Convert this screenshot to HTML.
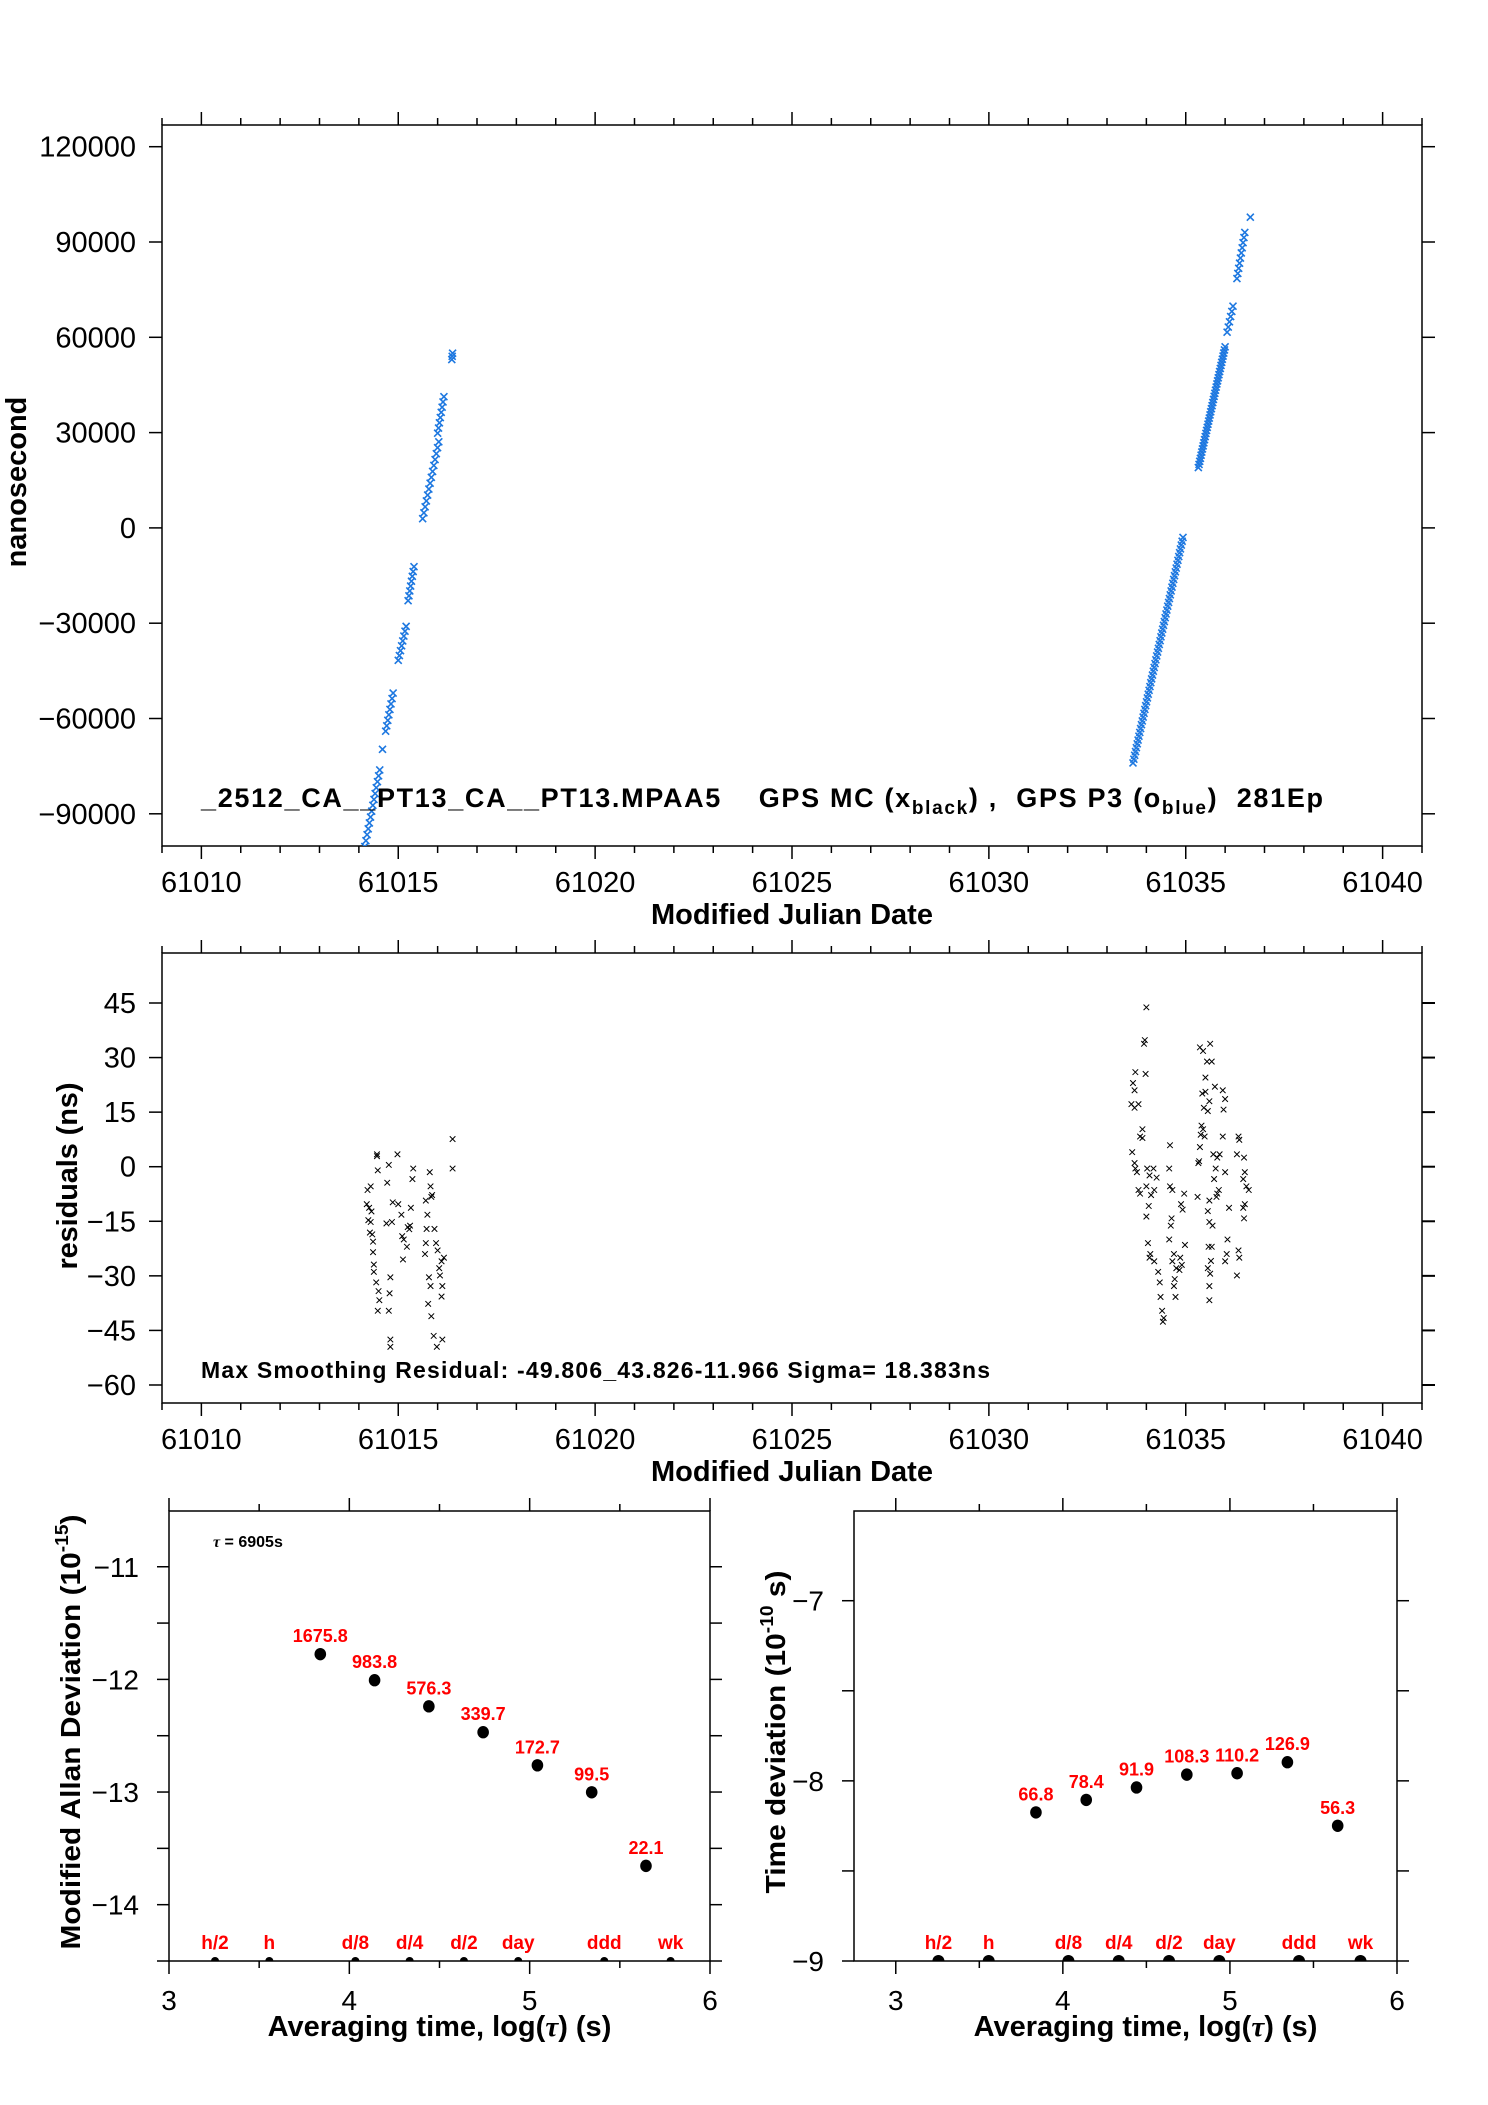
<!DOCTYPE html>
<html><head><meta charset="utf-8"><style>
html,body{margin:0;padding:0;background:#fff;}
svg{display:block;font-family:"Liberation Sans",Arial,sans-serif;}
</style></head><body>
<svg id="chart" width="1488" height="2105" viewBox="0 0 1488 2105" xmlns="http://www.w3.org/2000/svg">
<rect x="0" y="0" width="1488" height="2105" fill="#fff"/>
<g id="g1"></g>
<g id="g2"></g>
<g id="g3"></g>
<g id="g4"></g>
</svg>
<script>
// ---- phase plot data (segments of blue markers) ----
const phaseSegX0=[61014.15,61014.60,61014.68,61015.00,61015.25,61015.62,61016.00,61016.36,61033.66,61035.32,61036.05,61036.30,61036.64];
const phaseSegX1=[61014.53,61014.60,61014.87,61015.20,61015.40,61016.03,61016.16,61016.38,61034.93,61036.00,61036.20,61036.50,61036.64];
const phaseSegY0=[-100300,-69700,-64000,-41700,-22900,2900,29800,53000,-74000,19000,61600,78500,97800];
const phaseSegY1=[-76200,-69700,-52000,-31000,-12200,27100,41300,55000,-3000,57000,69800,93000,97800];
const phaseSegN=[14,1,8,8,8,14,8,3,60,40,6,10,1];
const mjdTicks=[61010,61015,61020,61025,61030,61035,61040];
const phaseTicks=[120000,90000,60000,30000,0,-30000,-60000,-90000];
const phaseLabels=["120000","90000","60000","30000","0","\u221230000","\u221260000","\u221290000"];
// ---- residuals data ----
const resX=[61014.22,61014.30,61014.20,61014.26,61014.32,61014.24,61014.30,61014.28,61014.34,61014.36,61014.36,61014.38,61014.38,
61014.46,61014.46,61014.48,61014.44,61014.50,61014.52,61014.48,
61014.76,61014.72,61014.70,61014.80,61014.78,61014.76,61014.80,61014.80,61014.86,61014.84,
61014.98,61015.00,61015.08,61015.10,61015.14,61015.12,61015.22,61015.24,
61015.38,61015.36,61015.32,61015.30,61015.28,
61015.80,61015.82,61015.70,61015.74,61015.72,61015.70,61015.68,61015.78,61015.82,61015.76,61015.84,61015.86,61015.84,
61015.92,61015.96,61016.00,61016.10,61016.04,61016.06,61016.12,61016.10,61015.90,61015.98,61016.12,61016.16,
61016.38,61016.38,
61033.72,61033.66,61033.70,61033.62,61033.70,61033.90,61033.90,61033.64,61033.70,61033.72,61033.76,61033.80,61033.84,
61034.00,61033.96,61033.94,61033.98,61033.80,61033.84,61034.02,61034.08,61034.00,61034.12,61034.06,61034.00,61034.04,61034.10,61034.08,
61034.20,61034.30,61034.34,61034.36,61034.40,61034.44,61034.42,61034.18,61034.26,61034.20,
61034.60,61034.58,61034.60,61034.66,61034.64,61034.62,61034.58,61034.70,61034.66,61034.76,61034.72,61034.70,61034.74,
61034.96,61034.88,61034.92,61034.98,61034.86,61034.90,61034.84,
61035.36,61035.44,61035.54,61035.50,61035.50,61035.42,61035.46,61035.40,61035.44,61035.38,61035.36,61035.34,61035.32,61035.30,61035.60,61035.56,61035.60,61035.58,61035.56,61035.60,
61035.62,61035.66,61035.74,61035.60,61035.56,61035.48,61035.70,61035.80,61035.76,61035.72,61035.84,61035.80,61035.78,61035.68,61035.66,61035.64,61035.62,61035.60,
61035.94,61036.00,61035.96,61035.94,61035.86,61036.00,61036.10,61036.06,61036.04,61036.00,
61036.34,61036.36,61036.30,61036.48,61036.50,61036.46,61036.54,61036.60,61036.50,61036.46,61036.48,61036.34,61036.36,61036.30];
const resY=[-6.4,-5.4,-10.3,-11.3,-12.3,-14.7,-15.2,-18.1,-18.6,-20.6,-23.5,-26.9,-28.9,
3.4,2.9,-1,-31.8,-34.2,-36.7,-39.6,
0.5,-4.4,-15.6,-30.4,-34.8,-39.6,-47.5,-49.5,-9.8,-15.2,
3.4,-10.3,-13.2,-19.1,-20,-25.5,-22,-16.6,
-0.5,-3.4,-11.3,-16.2,-17.2,
-1.5,-5.4,-9.3,-13.2,-17.1,-21,-24,-30.4,-32.8,-37.7,-41.1,-7.8,-8.3,
-17.1,-21,-23,-26,-27.9,-29.9,-32.8,-35.7,-46.5,-49.5,-47.5,-25,
7.6,-0.5,
26,23,21,17.2,16.2,10.3,7.9,4,1,-0.5,-1.5,-6.4,-7.4,
43.8,34.8,33.8,25.5,17.2,8.3,-0.5,-2.4,-5.4,-7.8,-10.8,-13.7,-21,-24,-25,
-26,-28.9,-31.8,-35.8,-39.6,-41.6,-42.6,-0.5,-3,-6.4,
5.9,-0.5,-5.4,-6.4,-14.2,-16.2,-20,-24,-26,-27.9,-30.9,-32.8,-35.8,
-7.4,-10.3,-11.8,-21.5,-25,-27,-28.4,
32.8,31.8,28.9,24.5,20.6,20.1,16.2,11.3,10.3,8.8,5.4,1.5,1,-8.3,-9.3,-12.2,-15.2,-22,-27.9,-32.8,
33.8,28.9,22,18,15.3,8.3,3.4,2.5,-0.5,-3.4,-6.4,-7.4,-8.3,-16.2,-22,-25.9,-29.4,-36.7,
21,18.6,15.7,8.3,3.4,-1.5,-11.3,-20,-24,-26,
8.3,7.4,3.4,2.5,-1.5,-3.4,-5.4,-6.4,-10.3,-11.3,-14.2,-23,-25,-29.9];
const resTicks=[45,30,15,0,-15,-30,-45,-60];
const resLabels=["45","30","15","0","\u221215","\u221230","\u221245","\u221260"];
// ---- stability data ----
const avgLogTau=[3.839,4.140,4.441,4.742,5.043,5.344,5.645];
const mdevVals=[1675.8,983.8,576.3,339.7,172.7,99.5,22.1];
const tdevVals=[66.8,78.4,91.9,108.3,110.2,126.9,56.3];
const refNames=["h/2","h","d/8","d/4","d/2","day","ddd","wk"];
const refSeconds=[1800,3600,10800,21600,43200,86400,259200,604800];
const logTicks=[3,4,5,6];
const mdevTicks=[-11,-12,-13,-14];
const tdevTicks=[-7,-8,-9];

const NS="http://www.w3.org/2000/svg";
function mk(parent,tag,attrs,text){const e=document.createElementNS(NS,tag);for(const k in attrs)e.setAttribute(k,attrs[k]);if(text!==undefined)e.textContent=text;parent.appendChild(e);return e;}
function ln(p,x1,y1,x2,y2,w){return mk(p,'line',{x1,y1,x2,y2,stroke:'#000','stroke-width':w||1.5});}
function frame(p,x0,x1,y0,y1){const r=mk(p,'rect',{x:x0,y:y0,width:x1-x0,height:y1-y0,fill:'none',stroke:'#000','stroke-width':1.5});}
function xmark(p,x,y,s,c,w){const g=mk(p,'path',{d:`M${x-s},${y-s}L${x+s},${y+s}M${x-s},${y+s}L${x+s},${y-s}`,stroke:c,'stroke-width':w,fill:'none'});return g;}

// ---- MJD plots ----
const X0=162,X1=1422;
const xs=d=>X0+(d-61009)*(X1-X0)/32;
function mjdAxes(g,y0,y1,title){
  frame(g,X0,X1,y0,y1);
  for(let d=61009;d<=61041;d++){
    const major=(d%5===0);const L=major?13:7;const x=xs(d);
    ln(g,x,y0,x,y0-L);ln(g,x,y1,x,y1+L);
  }
  mjdTicks.forEach(t=>{const e=mk(g,'text',{x:xs(t),y:y1+46,'font-size':29,'text-anchor':'middle'},String(t));
    });
  const tt=mk(g,'text',{x:(X0+X1)/2,y:y1+78,'font-size':29,'font-weight':'bold','text-anchor':'middle'},title);
  
}
// plot 1
const g1=document.getElementById('g1');
const P1T=125,P1B=846;
const ys1=v=>146.7+(120000-v)/30000*95.3;
mjdAxes(g1,P1T,P1B,'Modified Julian Date');
phaseTicks.forEach((t,i)=>{const y=ys1(t);ln(g1,X0-13,y,X0,y);ln(g1,X1,y,X1+13,y);
  const e=mk(g1,'text',{x:136,y:y+10,'font-size':29,'text-anchor':'end'},phaseLabels[i]);
  });
{const e=mk(g1,'text',{x:26,y:482,'font-size':29,'font-weight':'bold','text-anchor':'middle',transform:'rotate(-90 26 482)'},'nanosecond');
 }
{const cg=mk(g1,'g',{});
 const clip=mk(g1,'clipPath',{id:'c1'});mk(clip,'rect',{x:X0,y:P1T,width:X1-X0,height:P1B-P1T});
 cg.setAttribute('clip-path','url(#c1)');
 for(let s=0;s<phaseSegX0.length;s++){const n=phaseSegN[s];
  for(let k=0;k<n;k++){const f=n>1?k/(n-1):0;
   const m=xmark(cg,xs(phaseSegX0[s]+(phaseSegX1[s]-phaseSegX0[s])*f),ys1(phaseSegY0[s]+(phaseSegY1[s]-phaseSegY0[s])*f),3.5,'#1e78e0',1.6);
   
   }}}
{const t=mk(g1,'text',{x:201,y:807,'font-size':27,'font-weight':'bold'});
 
 t.innerHTML='_2512_CA__PT13_CA__PT13.MPAA5 \u00a0\u00a0\u00a0GPS MC (x<tspan font-size="19" dy="7">black</tspan><tspan dy="-7">) , \u00a0GPS P3 (o</tspan><tspan font-size="19" dy="7">blue</tspan><tspan dy="-7">) \u00a0281Ep</tspan>';
 t.setAttribute('textLength','1122');}

// plot 2
const g2=document.getElementById('g2');
const P2T=953,P2B=1403;
const ys2=v=>1003+(45-v)/15*54.57;
mjdAxes(g2,P2T,P2B,'Modified Julian Date');
resTicks.forEach((t,i)=>{const y=ys2(t);ln(g2,X0-13,y,X0,y);ln(g2,X1,y,X1+13,y,2);
  const e=mk(g2,'text',{x:136,y:y+10,'font-size':29,'text-anchor':'end'},resLabels[i]);
  });
{const e=mk(g2,'text',{x:77,y:1176,'font-size':29,'font-weight':'bold','text-anchor':'middle',transform:'rotate(-90 77 1176)',textLength:187},'residuals (ns)');
 }
{const cg=mk(g2,'g',{});
 resX.forEach((x,i)=>{const m=xmark(cg,xs(x),ys2(resY[i]),2.8,'#000',1);
  
  });}
{const t=mk(g2,'text',{x:201,y:1378,'font-size':23,'font-weight':'bold',textLength:789},'Max Smoothing Residual: -49.806_43.826-11.966  Sigma= 18.383ns');
 }

// ---- stability plots ----
function stabPlot(g,cfg){
  const {x0,x1,y0,y1,xmin,xmax,ymin,ymax}=cfg;
  const sx=v=>x0+(v-xmin)/(xmax-xmin)*(x1-x0);
  const sy=v=>y1-(v-ymin)/(ymax-ymin)*(y1-y0);
  frame(g,x0,x1,y0,y1);
  for(let v=3;v<=6.001;v+=0.5){const major=Math.abs(v-Math.round(v))<1e-6;const L=major?13:7;const x=sx(v);
    ln(g,x,y0,x,y0-L);ln(g,x,y1,x,y1+L);}
  logTicks.forEach(t=>{const e=mk(g,'text',{x:sx(t),y:y1+49,'font-size':28,'text-anchor':'middle'},String(t));
    });
  for(let v=Math.ceil(ymin*2)/2;v<=ymax+1e-6;v+=0.5){const y=sy(v);ln(g,x0-12,y,x0,y);ln(g,x1,y,x1+12,y);}
  cfg.yticks.forEach(t=>{const e=mk(g,'text',{x:x0-30,y:sy(t)+10,'font-size':28,'text-anchor':'end'},'\u2212'+Math.abs(t));
    });
  const tt=mk(g,'text',{x:(x0+x1)/2-(cfg.shift||0),y:2036,'font-size':29,'font-weight':'bold','text-anchor':'middle'});
  tt.innerHTML='Averaging time, log(<tspan font-family="Liberation Serif, serif" font-style="italic">\u03c4</tspan>) (s)';
  
  const yt=mk(g,'text',{x:cfg.tx,y:cfg.ty,'font-size':28,'font-weight':'bold','text-anchor':'middle',transform:`rotate(-90 ${cfg.tx} ${cfg.ty})`,textLength:cfg.tl,lengthAdjust:'spacingAndGlyphs'});
  yt.innerHTML=cfg.title;
  
  const clipId='clip'+cfg.id;const clip=mk(g,'clipPath',{id:clipId});mk(clip,'rect',{x:x0,y:y0,width:x1-x0,height:y1-y0});
  const rg=mk(g,'g',{'clip-path':`url(#${clipId})`});
  refSeconds.forEach((s,i)=>{const x=sx(Math.log10(s));
    const c=mk(rg,'circle',{cx:x,cy:y1,r:cfg.refR,fill:'#000'});
    
    
    const t=mk(g,'text',{x:x,y:y1-12,'font-size':19,'font-weight':'bold',fill:'#ff0000','text-anchor':'middle'},refNames[i]);
    
    });
  avgLogTau.forEach((lt,i)=>{const v=cfg.vals[i];const y=sy(Math.log10(v*cfg.unit));const x=sx(lt);
    const c=mk(g,'ellipse',{cx:x,cy:y,rx:5.8,ry:6.2,fill:'#000'});
    
    
    const t=mk(g,'text',{x:x,y:y-12,'font-size':18,'font-weight':'bold',fill:'#ff0000','text-anchor':'middle'},String(v));
    
    });
}
stabPlot(document.getElementById('g3'),{id:3,x0:169,x1:710,y0:1511,y1:1961,xmin:3,xmax:6,ymin:-14.5,ymax:-10.505,
  yticks:mdevTicks,vals:mdevVals,unit:1e-15,tx:80,ty:1732,tl:435,refR:4,
  title:'Modified Allan Deviation (10<tspan font-size="18" dy="-12">-15</tspan><tspan dy="12">)</tspan>'});
stabPlot(document.getElementById('g4'),{id:4,x0:854,x1:1397,y0:1511,y1:1961,xmin:2.75,xmax:6,ymin:-9,ymax:-6.502,
  yticks:tdevTicks,vals:tdevVals,unit:1e-10,tx:785,ty:1732,tl:323,shift:-20,refR:6,
  title:'Time deviation (10<tspan font-size="18" dy="-12">-10</tspan><tspan dy="12"> s)</tspan>'});
{const t=mk(document.getElementById('g3'),'text',{x:213,y:1547,'font-size':16,'font-weight':'bold'});
 t.innerHTML='<tspan font-family="Liberation Serif, serif" font-style="italic">\u03c4</tspan> = 6905s';
 }
</script>
</body></html>
